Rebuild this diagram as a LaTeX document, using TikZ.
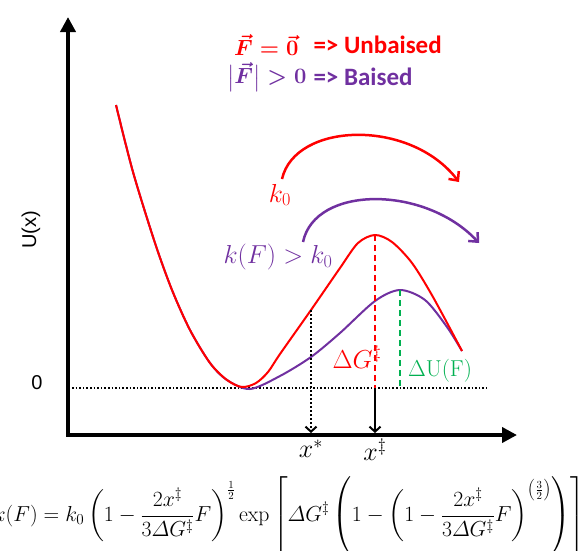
\RequirePackage{fix-cm}
\documentclass[tikz,border=0pt]{standalone}
\usepackage{amsmath,amssymb}
\usepackage{fontspec}
\setsansfont{Liberation Sans}
\newfontfamily\callabel{Carlito}
\usepackage{xcolor}
\usetikzlibrary{arrows.meta,positioning,calc}
\definecolor{unbiased}{HTML}{FF0000}
\definecolor{biased}{HTML}{7030A0}
\definecolor{shiftcol}{HTML}{00B050}
\tikzset{
  curve/.style={line width=2pt},
  levelline/.style={line width=2pt,dash pattern=on 6pt off 4pt},
  hop/.style={line width=2.5pt,-{Straight Barb[length=7pt,width=13pt]}},
  mathlabel/.style={font=\fontsize{26}{30}\selectfont},
  legmath/.style={anchor=east,font=\fontsize{22}{26}\selectfont},
  legtext/.style={anchor=west,font=\callabel\bfseries\fontsize{25}{28}\selectfont}
}

\begin{document}
\begin{tikzpicture}[x=1pt,y=-1pt]
      \useasboundingbox (0,0) rectangle (588,550);
      \clip (0,0) rectangle (588,550);
      % axes
      \draw[line width=4pt,{Triangle[length=15pt,width=15pt]}-{Triangle[length=15pt,width=15pt]}]
        (68,17) -- (68,435) -- (517,435);
      \node[font=\sffamily\fontsize{20}{22}\selectfont,rotate=90] (ulabel) at (31,230) {U(x)};
      \node[font=\sffamily\fontsize{20}{22}\selectfont] (zero) at (37,383) {0};
      % zero level
      \draw[dotted,line width=1.6pt] (72,388) -- (487,388);
      % biased curve
      \draw[curve,biased] plot[smooth] coordinates {
        (116,105) (133,172) (155,243) (172,290) (190,330) (210,363)
        (227,380) (250,389) (280,376) (311,357) (340,333) (375,301)
        (400,290) (425,300) (447,327) (462,351)};
      % unbiased curve
      \draw[curve,unbiased] plot[smooth] coordinates {
        (116,105) (133,172) (155,243) (172,290) (190,330) (210,363)
        (227,380) (242,387) (256,383) (268,372) (280,354) (311,310)
        (340,268) (358,243) (375,235) (392,242) (412,263) (433,297) (462,351)};
      \coordinate (topG) at (375,235);
      \coordinate (topU) at (400,290);
      \coordinate (xstar) at (311,310);
      % barrier heights
      \draw[levelline,unbiased] (topG) -- (topG |- 0,388) coordinate (footG);
      \draw[levelline,shiftcol] (topU) -- (topU |- 0,388);
      \node[mathlabel,unbiased] (dG) at (357,357) {$\Delta G^{\ddagger}$};
      \node[font=\fontsize{23}{26}\selectfont,shiftcol] (dU) at (440,371) {$\Delta\mathrm{U(F)}$};
      % positions on the axis
      \draw[line width=2pt,-{Straight Barb[length=5pt,width=11pt]}] (footG) -- (footG |- 0,433) coordinate (axG);
      \draw[dotted,line width=2pt,-{Straight Barb[length=5pt,width=11pt]}] (xstar) -- (xstar |- 0,433) coordinate (axS);
      \node[mathlabel,below=3pt of axS] (lstar) {$x^{*}$};
      \node[mathlabel,below=2pt of axG] (lddag) {$x^{\ddagger}$};
      % hopping rates
      \draw[hop,unbiased] (282,179) .. controls (295,122) and (410,118) .. (459,182);
      \draw[hop,biased] (303,242) .. controls (315,185) and (425,185) .. (479,243);
      \node[mathlabel,unbiased] (k0) at (280,195) {$k_0$};
      \node[mathlabel,biased] (kF) at (278,257) {$k(F) > k_0$};
      % legend
      \node[legmath,unbiased] (leg1m) at (302,45) {{\boldmath$\vec F = \vec 0$}};
      \node[legtext,unbiased] (leg1t) at (310,45) {=> Unbaised};
      \node[legmath,biased] (leg2m) at (310,77) {{\boldmath$\big|\vec F\big| > 0$}};
      \node[legtext,biased] (leg2t) at (310,77) {=> Baised};
      % rate formula
      \node[anchor=east,inner sep=0pt,font=\fontsize{21.7}{26}\selectfont] (rate) at (585,516)
        {$\displaystyle k(F) = k_0\left(1-\frac{2x^{\ddagger}}{3\varDelta G^{\ddagger}}F\right)^{\frac12}
          \exp\left[\varDelta G^{\ddagger}\left(1-\left(1-\frac{2x^{\ddagger}}{3\varDelta G^{\ddagger}}F\right)^{\left(\frac32\right)}\right)\right]$};
    \end{tikzpicture}
\end{document}
